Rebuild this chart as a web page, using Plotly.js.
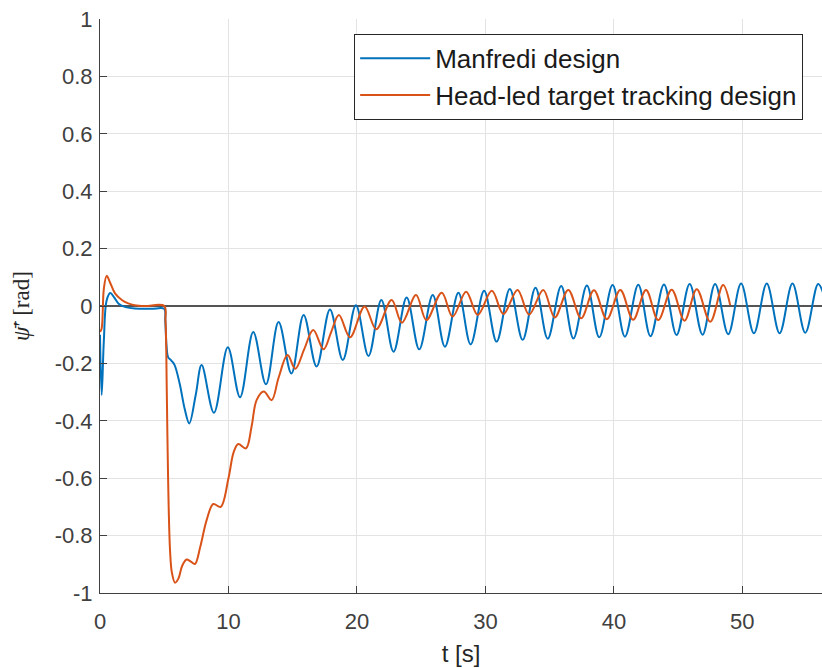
<!DOCTYPE html>
<html>
<head>
<meta charset="utf-8">
<script src="https://cdn.plot.ly/plotly-3.0.1.min.js"></script>
<style>
  html, body { margin: 0; padding: 0; background: #ffffff; }
  #chart { width: 822px; height: 668px; }
</style>
</head>
<body>
<div id="chart"></div>
<script>
// Heading error response: time [s] and angle [rad]
const manfrediT = [0, 0.13, 0.3, 0.52, 0.8, 1.1, 1.45, 2.0, 2.7, 4.0, 5.0,
  5.08, 5.18, 5.3, 5.55, 5.8, 6.2, 6.6, 6.95, 7.45, 7.91, 8.87, 9.95, 10.9, 11.93,
  12.92, 13.9, 14.9, 15.85, 16.86, 17.9, 18.9, 19.92, 20.9, 21.9, 22.85, 23.87,
  24.85, 25.9, 26.85, 27.9, 28.85, 29.9, 30.87, 31.9, 32.9, 33.9, 34.85, 35.9,
  36.85, 37.9, 38.86, 39.9, 40.86, 41.9, 42.85, 43.9, 44.88, 45.9, 46.9, 47.88,
  48.9, 49.9, 50.9, 51.9, 52.9, 53.9, 54.9, 55.9, 56.4];
const manfrediPsi = [-0.10, -0.31, -0.12, 0.02, 0.045, 0.03, 0.008, -0.004, -0.009, -0.01, -0.01,
  -0.05, -0.14, -0.178, -0.19, -0.205, -0.27, -0.36, -0.409, -0.31, -0.206, -0.372, -0.144, -0.318, -0.091,
  -0.273, -0.056, -0.235, -0.031, -0.211, -0.012, -0.188, 0.003, -0.174, 0.021, -0.159, 0.030,
  -0.151, 0.038, -0.142, 0.046, -0.134, 0.053, -0.124, 0.059, -0.118, 0.064, -0.114, 0.070,
  -0.113, 0.071, -0.109, 0.073, -0.107, 0.074, -0.105, 0.075, -0.101, 0.077, -0.100, 0.077,
  -0.098, 0.078, -0.095, 0.078, -0.095, 0.078, -0.093, 0.077, 0.03];

const headLedT = [0, 0.12, 0.3, 0.52, 0.8, 1.17, 1.7, 2.2, 2.7, 3.5, 5.0,
  5.1, 5.2, 5.3, 5.45, 5.6, 5.84, 6.1, 6.4, 6.74, 7.05, 7.39, 7.8, 8.3, 8.82, 9.39,
  10.0, 10.4, 10.76, 11.36, 11.8, 12.19, 12.75, 13.36, 13.9, 14.6, 15.2, 15.9,
  16.6, 17.4, 18.0, 18.6, 19.46, 20.6, 21.5, 22.7, 23.5, 24.6, 25.4, 26.6, 27.45,
  28.5, 29.4, 30.5, 31.4, 32.5, 33.4, 34.5, 35.4, 36.45, 37.45, 38.45, 39.45,
  40.5, 41.5, 42.5, 43.45, 44.5, 45.5, 46.45, 47.5, 48.5, 49.05];
const headLedPsi = [-0.09, -0.08, 0.06, 0.105, 0.08, 0.044, 0.021, 0.009, 0.003, 0.0, 0.0,
  -0.05, -0.3, -0.6, -0.85, -0.93, -0.964, -0.95, -0.905, -0.883, -0.89, -0.899, -0.84, -0.746, -0.69, -0.70,
  -0.60, -0.51, -0.481, -0.496, -0.42, -0.328, -0.298, -0.328, -0.25, -0.171, -0.219, -0.15,
  -0.084, -0.151, -0.09, -0.031, -0.109, -0.002, -0.081, 0.021, -0.058, 0.038, -0.049, 0.046, -0.037,
  0.050, -0.031, 0.053, -0.028, 0.056, -0.030, 0.056, -0.040, 0.056, -0.043, 0.055, -0.046,
  0.056, -0.048, 0.056, -0.049, 0.057, -0.051, 0.058, -0.055, 0.073, 0.003];

const seriesNames = ['Manfredi design', 'Head-led target tracking design'];
const seriesColors = ['#0072BD', '#D95319'];

const xTicks = [0, 10, 20, 30, 40, 50];
const yTicks = [-1, -0.8, -0.6, -0.4, -0.2, 0, 0.2, 0.4, 0.6, 0.8, 1];

const traces = [
  { x: manfrediT, y: manfrediPsi, name: seriesNames[0] },
  { x: headLedT, y: headLedPsi, name: seriesNames[1] }
].map((t, i) => Object.assign(t, {
  type: 'scatter',
  mode: 'lines',
  line: { color: seriesColors[i], width: 2, shape: 'spline', smoothing: 1 },
  hoverinfo: 'skip'
}));

const sans = 'Liberation Sans, Arial, sans-serif';

const axisCommon = {
  showline: true,
  linecolor: '#404040',
  linewidth: 1,
  ticks: 'inside',
  ticklen: 7,
  tickwidth: 1,
  tickcolor: '#404040',
  showgrid: true,
  gridcolor: '#e3e3e3',
  gridwidth: 1,
  tickfont: { family: sans, size: 22, color: '#404040' },
  mirror: false
};

const layout = {
  width: 822,
  height: 668,
  margin: { l: 100, r: 0, t: 19, b: 75 },
  paper_bgcolor: '#ffffff',
  plot_bgcolor: '#ffffff',
  showlegend: true,
  legend: {
    x: 0.352, y: 0.974, xanchor: 'left', yanchor: 'top',
    bgcolor: '#ffffff',
    bordercolor: '#262626',
    borderwidth: 1,
    itemwidth: 70,
    font: { family: sans, size: 26, color: '#1a1a1a' },
    tracegroupgap: 0
  },
  xaxis: Object.assign({}, axisCommon, {
    range: [0, 56.2],
    tickvals: xTicks,
    ticktext: xTicks.map(String),
    zeroline: false,
    ticklabelstandoff: 9,
    title: { text: 't [s]', font: { family: sans, size: 24, color: '#262626' }, standoff: 11 }
  }),
  yaxis: Object.assign({}, axisCommon, {
    range: [-1, 1],
    tickvals: yTicks,
    ticktext: yTicks.map(String),
    zeroline: true,
    zerolinecolor: '#555555',
    zerolinewidth: 2.5,
    ticklabelstandoff: 2,
    title: { text: '<i>ψ̄</i>′ [rad]', font: { family: 'Liberation Serif, DejaVu Serif, serif', size: 23, color: '#262626' }, standoff: 18 }
  })
};

Plotly.newPlot('chart', traces, layout, { displayModeBar: false, staticPlot: true });
</script>
</body>
</html>
